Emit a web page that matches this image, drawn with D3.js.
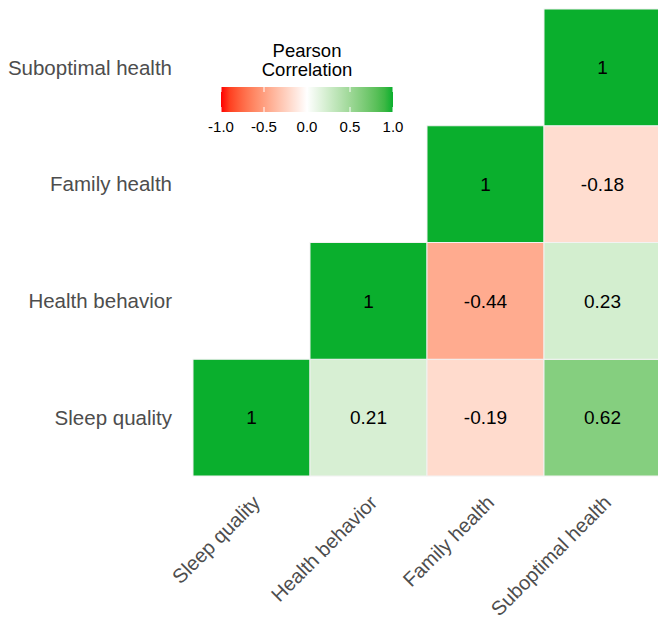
<!DOCTYPE html>
<html lang="en">
<head>
<meta charset="UTF-8">
<title>Pearson correlation heatmap</title>
<script src="https://d3js.org/d3.v7.min.js"></script>
<style>
  body { margin: 0; background: #fff; }
  text { font-family: Arial, "Liberation Sans", sans-serif; }
</style>
</head>
<body>
<div id="chart"></div>
<script>
// variables, bottom-left to top-right
const vars = ['Sleep quality', 'Health behavior', 'Family health', 'Suboptimal health'];

// lower triangle of correlation matrix: row var, col var, r
const cellRows = ['Sleep quality', 'Sleep quality', 'Sleep quality', 'Sleep quality',
                  'Health behavior', 'Health behavior', 'Health behavior',
                  'Family health', 'Family health',
                  'Suboptimal health'];
const cellCols = ['Sleep quality', 'Health behavior', 'Family health', 'Suboptimal health',
                  'Health behavior', 'Family health', 'Suboptimal health',
                  'Family health', 'Suboptimal health',
                  'Suboptimal health'];
const cellValues = [1, 0.21, -0.19, 0.62,
                    1, -0.44, 0.23,
                    1, -0.18,
                    1];

const legendTicks = [-1, -0.5, 0, 0.5, 1];

const width = 658, height = 624;
const svg = d3.select('#chart').append('svg')
    .attr('width', width)
    .attr('height', height);

const x = d3.scaleBand().domain(vars).range([193, 661]);
const y = d3.scaleBand().domain(vars.slice().reverse()).range([9, 476]);

const color = d3.scaleLinear()
    .domain([-1, 0, 1])
    .range(['#ff0000', '#ffffff', '#0aaf2d'])
    .interpolate(d3.interpolateLab);

const cells = cellValues.map((v, i) => ({ row: cellRows[i], col: cellCols[i], v }));

svg.selectAll('rect.cell')
    .data(cells)
    .enter()
    .append('rect')
    .attr('class', 'cell')
    .attr('x', d => x(d.col))
    .attr('y', d => y(d.row))
    .attr('width', x.bandwidth())
    .attr('height', y.bandwidth())
    .attr('fill', d => color(d.v))
    .attr('stroke', '#f2f2f2')
    .attr('stroke-width', 1);

svg.selectAll('text.val')
    .data(cells)
    .enter()
    .append('text')
    .attr('class', 'val')
    .attr('x', d => x(d.col) + x.bandwidth() / 2)
    .attr('y', d => y(d.row) + y.bandwidth() / 2)
    .attr('dy', '0.35em')
    .attr('text-anchor', 'middle')
    .attr('font-size', '19px')
    .attr('fill', '#000')
    .text(d => d.v);

// y axis labels
svg.selectAll('text.ylab')
    .data(vars)
    .enter()
    .append('text')
    .attr('class', 'ylab')
    .attr('x', 172)
    .attr('y', d => y(d) + y.bandwidth() / 2)
    .attr('dy', '0.35em')
    .attr('text-anchor', 'end')
    .attr('font-size', '20.5px')
    .attr('fill', '#4d4d4d')
    .text(d => d);

// x axis labels, rotated 45 degrees
svg.selectAll('text.xlab')
    .data(vars)
    .enter()
    .append('text')
    .attr('class', 'xlab')
    .attr('transform', d => `translate(${x(d) + x.bandwidth() / 2 + 5},${499}) rotate(-45)`)
    .attr('text-anchor', 'end')
    .attr('dy', '0.35em')
    .attr('font-size', '20px')
    .attr('fill', '#4d4d4d')
    .text(d => d);

// legend
const lx = d3.scaleLinear().domain([-1, 1]).range([221, 393]);
const defs = svg.append('defs');
const grad = defs.append('linearGradient').attr('id', 'grad');
d3.range(0, 1.0001, 0.05).forEach(t => {
    grad.append('stop')
        .attr('offset', (t * 100) + '%')
        .attr('stop-color', color(-1 + 2 * t));
});
svg.append('rect')
    .attr('x', lx(-1))
    .attr('y', 87)
    .attr('width', lx(1) - lx(-1))
    .attr('height', 25)
    .attr('fill', 'url(#grad)');

svg.selectAll('line.ltick')
    .data(legendTicks)
    .enter()
    .append('line')
    .attr('class', 'ltick')
    .attr('x1', d => lx(d)).attr('x2', d => lx(d))
    .attr('y1', 87).attr('y2', 92)
    .attr('stroke', '#fff').attr('stroke-width', 1);
svg.selectAll('line.ltick2')
    .data(legendTicks)
    .enter()
    .append('line')
    .attr('class', 'ltick2')
    .attr('x1', d => lx(d)).attr('x2', d => lx(d))
    .attr('y1', 107).attr('y2', 112)
    .attr('stroke', '#fff').attr('stroke-width', 1);

svg.selectAll('text.llab')
    .data(legendTicks)
    .enter()
    .append('text')
    .attr('class', 'llab')
    .attr('x', d => lx(d))
    .attr('y', 132)
    .attr('text-anchor', 'middle')
    .attr('font-size', '15px')
    .attr('fill', '#000')
    .text(d => d.toFixed(1));

svg.append('text')
    .attr('x', 307).attr('y', 57)
    .attr('text-anchor', 'middle')
    .attr('font-size', '18.5px')
    .text('Pearson');
svg.append('text')
    .attr('x', 307).attr('y', 76)
    .attr('text-anchor', 'middle')
    .attr('font-size', '18.5px')
    .text('Correlation');
</script>
</body>
</html>
